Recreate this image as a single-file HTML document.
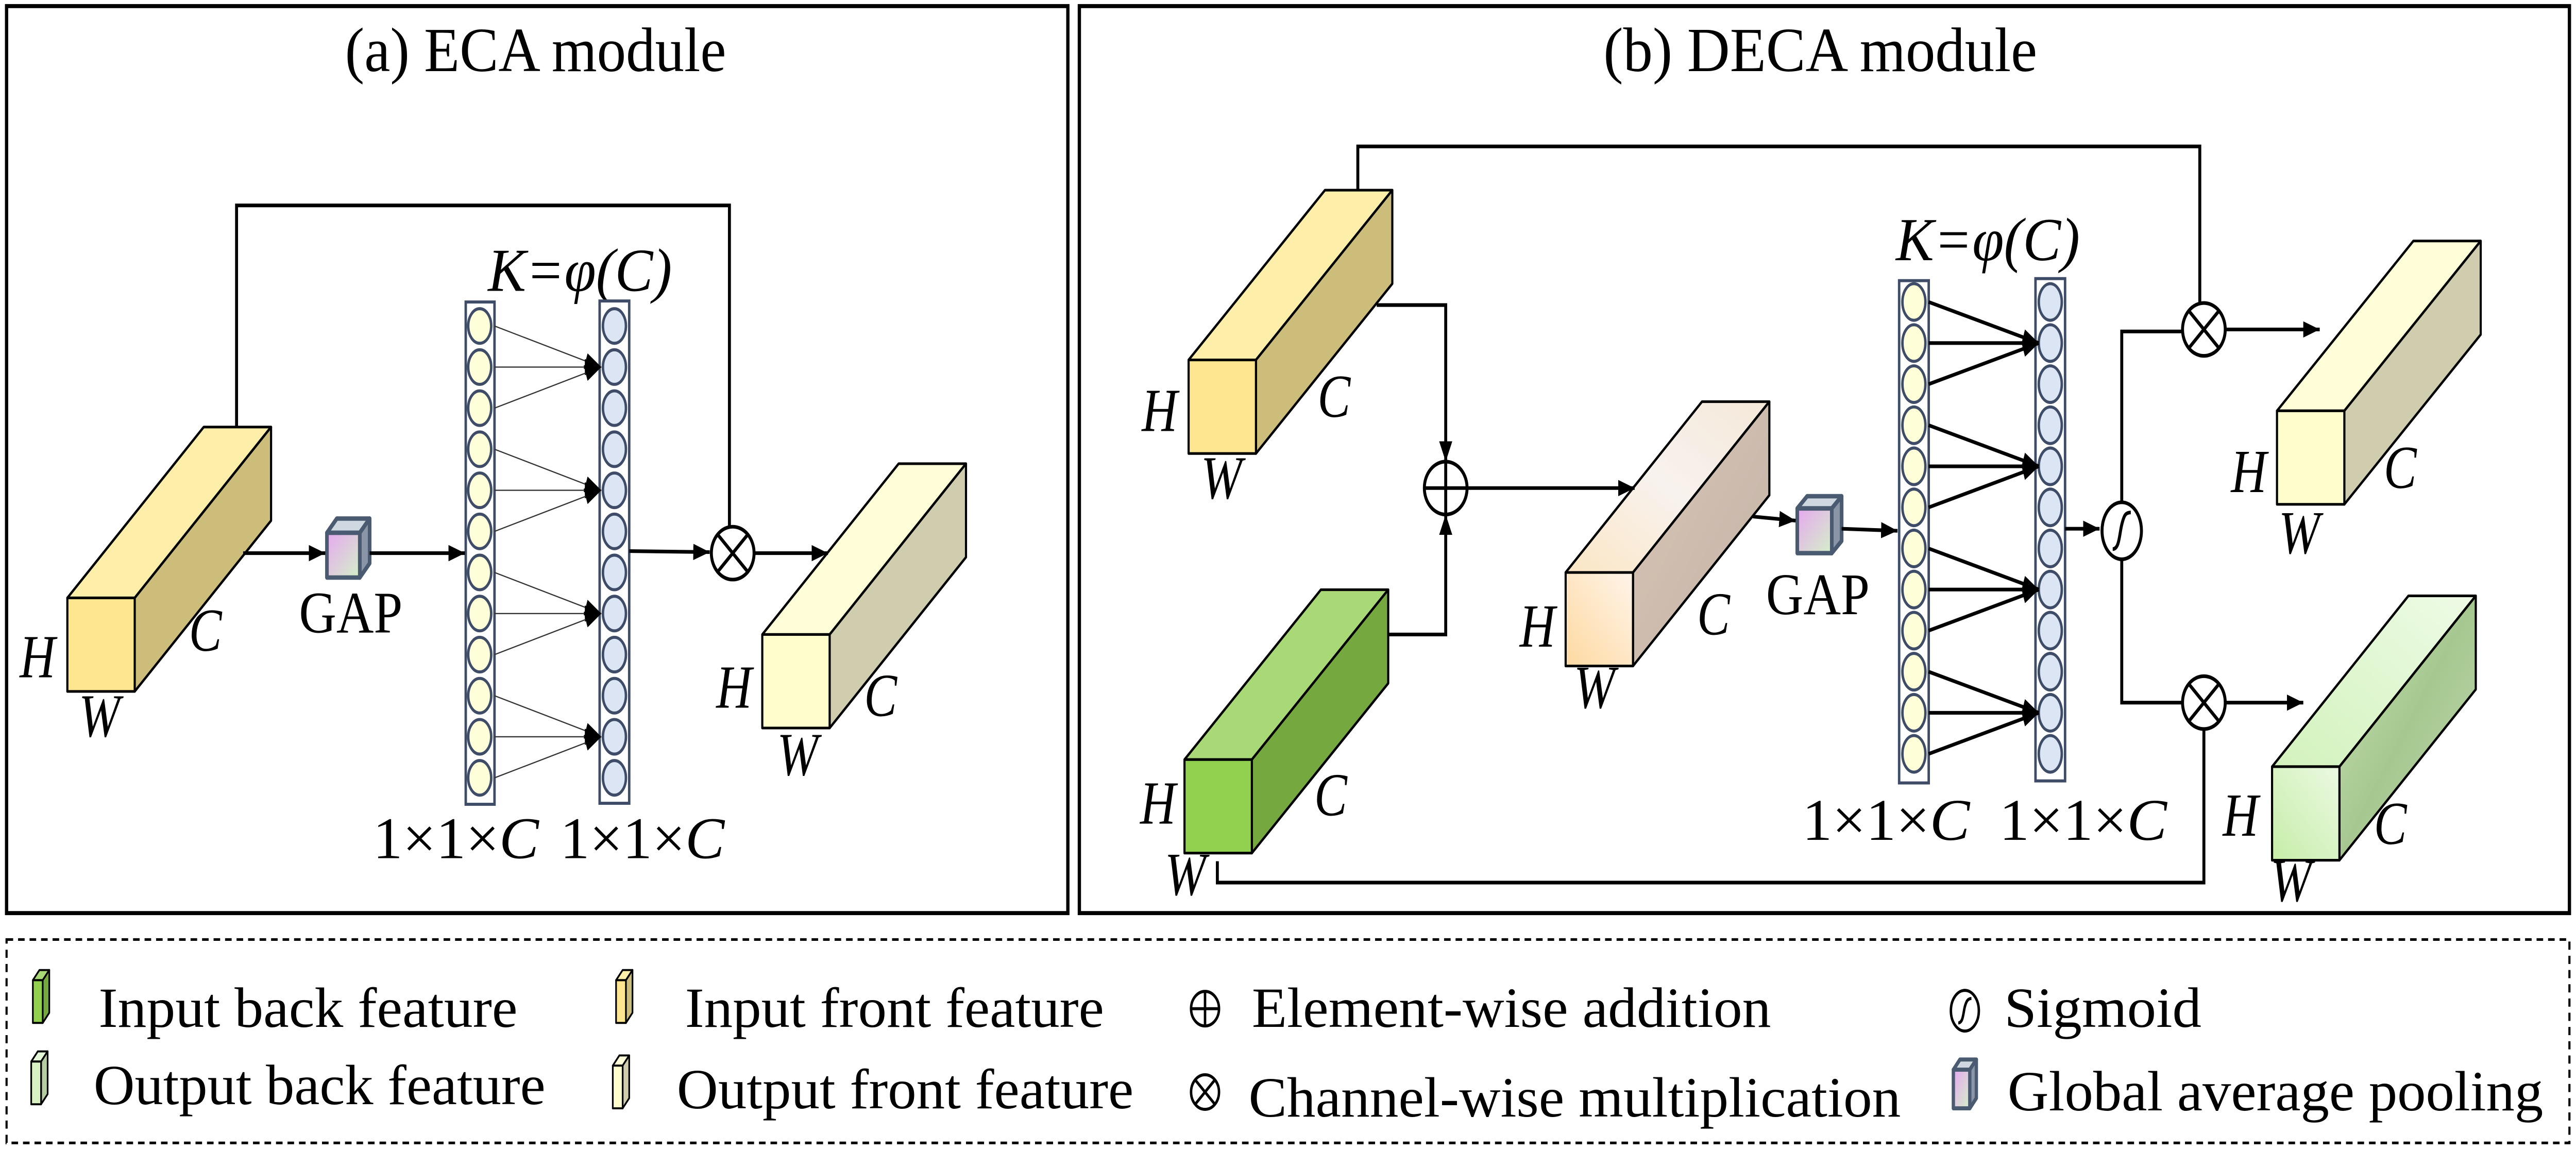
<!DOCTYPE html>
<html><head><meta charset="utf-8"><style>
html,body{margin:0;padding:0;background:#fff;width:100%;height:100%;overflow:hidden}
svg{display:block;position:absolute;left:0;top:0;width:100vw;height:100vh}
text{font-family:"Liberation Serif",serif;fill:#000}
</style></head><body>
<svg viewBox="0 0 1568 565" preserveAspectRatio="none" xmlns="http://www.w3.org/2000/svg">
<defs>
<marker id="ar" markerUnits="userSpaceOnUse" markerWidth="10" markerHeight="8" refX="10" refY="4" orient="auto"><path d="M0,0L10,4L0,8z" fill="#000"/></marker>
<linearGradient id="gmf" x1="0" y1="1" x2="1" y2="0"><stop offset="0" stop-color="#fdd9a0"/><stop offset="1" stop-color="#fff4ea"/></linearGradient>
<linearGradient id="gmt" x1="0" y1="1" x2="1" y2="0"><stop offset="0" stop-color="#fbe6c4"/><stop offset="0.5" stop-color="#f8f2ee"/><stop offset="1" stop-color="#f4e8d8"/></linearGradient>
<linearGradient id="gms" x1="0" y1="0" x2="1" y2="1"><stop offset="0" stop-color="#d9c4b4"/><stop offset="1" stop-color="#c2b4a8"/></linearGradient>
<linearGradient id="ggf" x1="0" y1="1" x2="1" y2="0"><stop offset="0" stop-color="#c5eda8"/><stop offset="1" stop-color="#ecf9e2"/></linearGradient>
<linearGradient id="ggt" x1="0" y1="1" x2="1" y2="0"><stop offset="0" stop-color="#d2f2bc"/><stop offset="1" stop-color="#eefbe6"/></linearGradient>
<linearGradient id="ggs" x1="0" y1="0" x2="1" y2="1"><stop offset="0" stop-color="#c9e2b2"/><stop offset="0.5" stop-color="#a6c890"/><stop offset="1" stop-color="#c2d8b0"/></linearGradient>
<linearGradient id="gap" x1="0" y1="0" x2="1" y2="1"><stop offset="0" stop-color="#e6a8f0"/><stop offset="1" stop-color="#d4f0c8"/></linearGradient>
</defs>

<rect x="4" y="3" width="646" height="446" fill="none" stroke="#000" stroke-width="2"/>
<rect x="657" y="3" width="907" height="446" fill="none" stroke="#000" stroke-width="2"/>
<rect x="4" y="462" width="1560" height="100" fill="none" stroke="#000" stroke-width="1.3" stroke-dasharray="4,3"/>
<text x="210" y="35" font-size="31" textLength="232" lengthAdjust="spacingAndGlyphs">(a) ECA module</text>
<text x="976" y="35" font-size="31" textLength="264" lengthAdjust="spacingAndGlyphs">(b) DECA module</text>

<g stroke="#000" stroke-width="1.3" stroke-linejoin="round">
<polygon points="41,294 124,210 165,210 82,294" fill="#fdeeaa"/>
<polygon points="82,294 165,210 165,256 82,340" fill="#cdbd7a"/>
<rect x="41" y="294" width="41" height="46" fill="#fde68f"/>
<polygon points="464,312 547,228 588,228 505,312" fill="#fffed8"/>
<polygon points="505,312 588,228 588,274 505,358" fill="#cfcdae"/>
<rect x="464" y="312" width="41" height="46" fill="#fefecc"/>
<polygon points="723.5,177 806.5,93.5 847.5,93.5 764.5,177" fill="#fdeeaa"/>
<polygon points="764.5,177 847.5,93.5 847.5,139.5 764.5,223" fill="#cdbd7a"/>
<rect x="723.5" y="177" width="41" height="46" fill="#fde68f"/>
<polygon points="721,373.5 804,290 845,290 762,373.5" fill="#a9d977"/>
<polygon points="762,373.5 845,290 845,336 762,419.5" fill="#76a840"/>
<rect x="721" y="373.5" width="41" height="46" fill="#92d050"/>
<polygon points="953,281.5 1036,197.5 1077,197.5 994,281.5" fill="url(#gmt)"/>
<polygon points="994,281.5 1077,197.5 1077,243.5 994,327.5" fill="url(#gms)"/>
<rect x="953" y="281.5" width="41" height="46" fill="url(#gmf)"/>
<polygon points="1386,202 1469,118.5 1510,118.5 1427,202" fill="#fffed8"/>
<polygon points="1427,202 1510,118.5 1510,164.5 1427,248" fill="#cfcdae"/>
<rect x="1386" y="202" width="41" height="46" fill="#fefecc"/>
<polygon points="1383,377 1466,293 1507,293 1424,377" fill="url(#ggt)"/>
<polygon points="1424,377 1507,293 1507,339 1424,423" fill="url(#ggs)"/>
<rect x="1383" y="377" width="41" height="46" fill="url(#ggf)"/>
</g>

<g stroke="#4a5a70" stroke-width="2.2" stroke-linejoin="round">
<polygon points="199,262 205,255 225,255 219,262" fill="#cfd8e0"/>
<polygon points="219,262 225,255 225,277 219,284" fill="#8a96a8"/>
<rect x="199" y="262" width="20" height="22" fill="url(#gap)"/>
<polygon points="1094,250 1100,244 1121,244 1115,250" fill="#cfd8e0"/>
<polygon points="1115,250 1121,244 1121,266 1115,272" fill="#8a96a8"/>
<rect x="1094" y="250" width="21" height="22" fill="url(#gap)"/>
</g>
<text x="182" y="311" font-size="29" textLength="63" lengthAdjust="spacingAndGlyphs">GAP</text>
<text x="1075" y="302" font-size="29" textLength="63" lengthAdjust="spacingAndGlyphs">GAP</text>

<g font-size="30" font-style="italic">
<text x="12" y="333">H</text><text x="115" y="320">C</text><text x="48" y="362">W</text>
<text x="436" y="348">H</text><text x="526" y="352">C</text><text x="473" y="381">W</text>
<text x="695" y="212">H</text><text x="802" y="205">C</text><text x="731" y="245">W</text>
<text x="694" y="405">H</text><text x="800" y="401">C</text><text x="709" y="440">W</text>
<text x="925" y="318">H</text><text x="1033" y="312">C</text><text x="958" y="348">W</text>
<text x="1358" y="242">H</text><text x="1451" y="240">C</text><text x="1387" y="272">W</text>
<text x="1353" y="411">H</text><text x="1445" y="415">C</text><text x="1382" y="443">W</text>
</g>
<text x="297" y="143" font-size="30" font-style="italic" textLength="112" lengthAdjust="spacingAndGlyphs">K=φ(C)</text>
<text x="1154" y="128" font-size="30" font-style="italic" textLength="112" lengthAdjust="spacingAndGlyphs">K=φ(C)</text>
<text x="227" y="422" font-size="29" textLength="101" lengthAdjust="spacingAndGlyphs">1×1×<tspan font-style="italic">C</tspan></text>
<text x="341" y="422" font-size="29" textLength="100" lengthAdjust="spacingAndGlyphs">1×1×<tspan font-style="italic">C</tspan></text>
<text x="1097" y="413" font-size="29" textLength="102" lengthAdjust="spacingAndGlyphs">1×1×<tspan font-style="italic">C</tspan></text>
<text x="1217" y="413" font-size="29" textLength="102" lengthAdjust="spacingAndGlyphs">1×1×<tspan font-style="italic">C</tspan></text>

<g stroke="#3e4c68" stroke-width="1.5">
<rect x="283.5" y="148.5" width="17.5" height="247" fill="#fff"/>
<rect x="365" y="148" width="18" height="247" fill="#fff"/>
<rect x="1156" y="138" width="18" height="247" fill="#fff"/>
<rect x="1239" y="137" width="18" height="247" fill="#fff"/>
<g fill="#fefed8">
<ellipse cx="292" cy="160.3" rx="7" ry="8.5"/><ellipse cx="292" cy="180.5" rx="7" ry="8.5"/><ellipse cx="292" cy="200.7" rx="7" ry="8.5"/><ellipse cx="292" cy="220.9" rx="7" ry="8.5"/><ellipse cx="292" cy="241.1" rx="7" ry="8.5"/><ellipse cx="292" cy="261.3" rx="7" ry="8.5"/><ellipse cx="292" cy="281.5" rx="7" ry="8.5"/><ellipse cx="292" cy="301.7" rx="7" ry="8.5"/><ellipse cx="292" cy="321.9" rx="7" ry="8.5"/><ellipse cx="292" cy="342.1" rx="7" ry="8.5"/><ellipse cx="292" cy="362.3" rx="7" ry="8.5"/><ellipse cx="292" cy="382.5" rx="7" ry="8.5"/>
<ellipse cx="1165" cy="148.5" rx="7" ry="9"/><ellipse cx="1165" cy="168.7" rx="7" ry="9"/><ellipse cx="1165" cy="188.9" rx="7" ry="9"/><ellipse cx="1165" cy="209.1" rx="7" ry="9"/><ellipse cx="1165" cy="229.3" rx="7" ry="9"/><ellipse cx="1165" cy="249.5" rx="7" ry="9"/><ellipse cx="1165" cy="269.7" rx="7" ry="9"/><ellipse cx="1165" cy="289.9" rx="7" ry="9"/><ellipse cx="1165" cy="310.1" rx="7" ry="9"/><ellipse cx="1165" cy="330.3" rx="7" ry="9"/><ellipse cx="1165" cy="350.5" rx="7" ry="9"/><ellipse cx="1165" cy="370.7" rx="7" ry="9"/>
</g>
<g fill="#dce5f4">
<ellipse cx="374" cy="160.3" rx="7" ry="8.5"/><ellipse cx="374" cy="180.5" rx="7" ry="8.5"/><ellipse cx="374" cy="200.7" rx="7" ry="8.5"/><ellipse cx="374" cy="220.9" rx="7" ry="8.5"/><ellipse cx="374" cy="241.1" rx="7" ry="8.5"/><ellipse cx="374" cy="261.3" rx="7" ry="8.5"/><ellipse cx="374" cy="281.5" rx="7" ry="8.5"/><ellipse cx="374" cy="301.7" rx="7" ry="8.5"/><ellipse cx="374" cy="321.9" rx="7" ry="8.5"/><ellipse cx="374" cy="342.1" rx="7" ry="8.5"/><ellipse cx="374" cy="362.3" rx="7" ry="8.5"/><ellipse cx="374" cy="382.5" rx="7" ry="8.5"/>
<ellipse cx="1248" cy="148.5" rx="7" ry="9"/><ellipse cx="1248" cy="168.7" rx="7" ry="9"/><ellipse cx="1248" cy="188.9" rx="7" ry="9"/><ellipse cx="1248" cy="209.1" rx="7" ry="9"/><ellipse cx="1248" cy="229.3" rx="7" ry="9"/><ellipse cx="1248" cy="249.5" rx="7" ry="9"/><ellipse cx="1248" cy="269.7" rx="7" ry="9"/><ellipse cx="1248" cy="289.9" rx="7" ry="9"/><ellipse cx="1248" cy="310.1" rx="7" ry="9"/><ellipse cx="1248" cy="330.3" rx="7" ry="9"/><ellipse cx="1248" cy="350.5" rx="7" ry="9"/><ellipse cx="1248" cy="370.7" rx="7" ry="9"/>
</g>
</g>

<g stroke="#333" stroke-width="0.6" fill="none" marker-end="url(#ar)">
<line x1="301" y1="160.3" x2="366" y2="180.5"/><line x1="301" y1="180.5" x2="366" y2="180.5"/><line x1="301" y1="200.7" x2="366" y2="180.5"/>
<line x1="301" y1="220.9" x2="366" y2="241.1"/><line x1="301" y1="241.1" x2="366" y2="241.1"/><line x1="301" y1="261.3" x2="366" y2="241.1"/>
<line x1="301" y1="281.5" x2="366" y2="301.7"/><line x1="301" y1="301.7" x2="366" y2="301.7"/><line x1="301" y1="321.9" x2="366" y2="301.7"/>
<line x1="301" y1="342.1" x2="366" y2="362.3"/><line x1="301" y1="362.3" x2="366" y2="362.3"/><line x1="301" y1="382.5" x2="366" y2="362.3"/>
</g>
<g stroke="#000" stroke-width="1.8" fill="none" marker-end="url(#ar)">
<line x1="1174" y1="148.5" x2="1241" y2="168.7"/><line x1="1174" y1="168.7" x2="1241" y2="168.7"/><line x1="1174" y1="188.9" x2="1241" y2="168.7"/>
<line x1="1174" y1="209.1" x2="1241" y2="229.3"/><line x1="1174" y1="229.3" x2="1241" y2="229.3"/><line x1="1174" y1="249.5" x2="1241" y2="229.3"/>
<line x1="1174" y1="269.7" x2="1241" y2="289.9"/><line x1="1174" y1="289.9" x2="1241" y2="289.9"/><line x1="1174" y1="310.1" x2="1241" y2="289.9"/>
<line x1="1174" y1="330.3" x2="1241" y2="350.5"/><line x1="1174" y1="350.5" x2="1241" y2="350.5"/><line x1="1174" y1="370.7" x2="1241" y2="350.5"/>
</g>

<g stroke="#000" stroke-width="1.8" fill="none">
<polyline points="144,210 144,101 444,101 444,259"/>
<line x1="148" y1="272" x2="198" y2="272" marker-end="url(#ar)"/>
<line x1="225" y1="272" x2="283" y2="272" marker-end="url(#ar)"/>
<line x1="383" y1="271" x2="432" y2="271.5" marker-end="url(#ar)"/>
<line x1="459" y1="272" x2="504" y2="272" marker-end="url(#ar)"/>
<polyline points="826.5,93.5 826.5,72 1339,72 1339,149"/>
<polyline points="838,150 880,150 880,227" marker-end="url(#ar)"/>
<polyline points="845,312 880,312 880,253" marker-end="url(#ar)"/>
<line x1="893" y1="240" x2="995" y2="240" marker-end="url(#ar)"/>
<line x1="1067" y1="254" x2="1093" y2="256" marker-end="url(#ar)"/>
<line x1="1121" y1="260" x2="1155" y2="261" marker-end="url(#ar)"/>
<line x1="1257" y1="260" x2="1278" y2="260" marker-end="url(#ar)"/>
<polyline points="1291.5,247 1291.5,163 1328.5,163"/>
<polyline points="1291.5,275 1291.5,345.5 1328.5,345.5"/>
<line x1="1355" y1="162" x2="1412" y2="162" marker-end="url(#ar)"/>
<line x1="1355" y1="345.5" x2="1402" y2="345.5" marker-end="url(#ar)"/>
<polyline points="741,423.5 741,434 1341.5,434 1341.5,359"/>
</g>

<g stroke="#000" stroke-width="1.8" fill="#fff">
<circle cx="446" cy="272" r="13"/>
<circle cx="880" cy="240" r="13"/>
<circle cx="1341.5" cy="162" r="13"/>
<circle cx="1341.5" cy="345.5" r="13"/>
<ellipse cx="1291.5" cy="261" rx="12" ry="14"/>
</g>
<g stroke="#000" stroke-width="1.8" fill="none">
<path d="M436.8,262.8L455.2,281.2M455.2,262.8L436.8,281.2"/>
<path d="M1332.3,152.8L1350.7,171.2M1350.7,152.8L1332.3,171.2"/>
<path d="M1332.3,336.3L1350.7,354.7M1350.7,336.3L1332.3,354.7"/>
<path d="M867,240H893M880,227V253"/>
<path d="M1286,270C1290,270 1290,263 1291.5,258C1293,253 1294,252 1297,252"/>
</g>

<g stroke="#000" stroke-width="1" stroke-linejoin="round">
<polygon points="20,482 24,477 30,477 26,482" fill="#a9d977"/><polygon points="26,482 30,477 30,498 26,503" fill="#76a840"/><rect x="20" y="482" width="6" height="21" fill="#92d050"/>
<polygon points="375,482 379,477 385,477 381,482" fill="#fdeeaa"/><polygon points="381,482 385,477 385,498 381,503" fill="#cdbd7a"/><rect x="375" y="482" width="6" height="21" fill="#fde68f"/>
<polygon points="19,522 23,517 29,517 25,522" fill="#e6f7d8"/><polygon points="25,522 29,517 29,538 25,543" fill="#b5cca0"/><rect x="19" y="522" width="6" height="21" fill="#d8f2c4"/>
<polygon points="373,524 377,519 383,519 379,524" fill="#fffed8"/><polygon points="379,524 383,519 383,540 379,545" fill="#cfcdae"/><rect x="373" y="524" width="6" height="21" fill="#fefecc"/>
</g>
<g stroke="#4a5a70" stroke-width="2" stroke-linejoin="round">
<polygon points="1189,526 1193,521 1203,521 1199,526" fill="#cfd8e0"/><polygon points="1199,526 1203,521 1203,540 1199,545" fill="#8a96a8"/><rect x="1189" y="526" width="10" height="19" fill="url(#gap)"/>
</g>
<g stroke="#000" stroke-width="1.5" fill="none">
<circle cx="733.5" cy="496" r="8.5"/><path d="M725,496H742M733.5,487.5V504.5"/>
<circle cx="733.5" cy="537" r="8.5"/><path d="M727.5,531L739.5,543M739.5,531L727.5,543"/>
<ellipse cx="1196" cy="497" rx="8.5" ry="10"/><path d="M1192,503C1195,503 1195,498 1196,495C1197,492 1198,491 1200,491"/>
</g>
<g font-size="28">
<text x="60" y="505" textLength="255" lengthAdjust="spacingAndGlyphs">Input back feature</text>
<text x="417" y="505" textLength="255" lengthAdjust="spacingAndGlyphs">Input front feature</text>
<text x="762" y="505" textLength="316" lengthAdjust="spacingAndGlyphs">Element-wise addition</text>
<text x="1220" y="505" textLength="120" lengthAdjust="spacingAndGlyphs">Sigmoid</text>
<text x="57" y="543" textLength="275" lengthAdjust="spacingAndGlyphs">Output back feature</text>
<text x="412" y="545" textLength="278" lengthAdjust="spacingAndGlyphs">Output front feature</text>
<text x="760" y="549" textLength="397" lengthAdjust="spacingAndGlyphs">Channel-wise multiplication</text>
<text x="1222" y="546" textLength="326" lengthAdjust="spacingAndGlyphs">Global average pooling</text>
</g>
</svg>
</body></html>
